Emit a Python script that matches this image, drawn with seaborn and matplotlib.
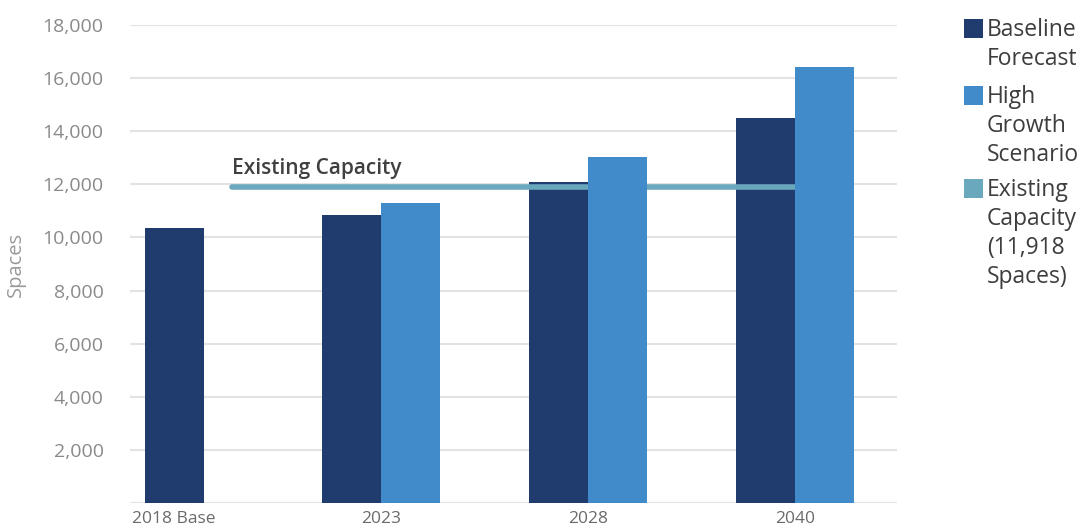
import pandas as pd
import matplotlib.pyplot as plt
import seaborn as sns
from matplotlib.patches import Rectangle

# 数据
years = ['2018 Base', '2023', '2028', '2040']
baseline = [10340, 10850, 12075, 14500]
high_growth = [None, 11280, 13020, 16430]
capacity = 11918
y_ticks = [0, 2000, 4000, 6000, 8000, 10000, 12000, 14000, 16000, 18000]

series_names = ['Baseline Forecast', 'High Growth Scenario']
legend_labels = ['Baseline\nForecast', 'High\nGrowth\nScenario', 'Existing\nCapacity\n(11,918\nSpaces)']

# 颜色
base_color = '#203c6e'
high_color = '#428bca'
cap_color = '#6aa8bd'

# 整理数据
base_df = pd.DataFrame({'Year': years[:1], 'Spaces': baseline[:1]})
fc_df = pd.DataFrame({
    'Year': years[1:] * 2,
    'Series': [series_names[0]] * 3 + [series_names[1]] * 3,
    'Spaces': baseline[1:] + high_growth[1:],
})

sns.set_style('white')
plt.rcParams['font.family'] = ['Open Sans', 'DejaVu Sans']

fig = plt.figure(figsize=(10.88, 5.27), dpi=100)
ax = fig.add_axes([0.1195, 0.0455, 0.7049, 0.9071])

# 2018 基准年只有一根柱子
sns.barplot(data=base_df, x='Year', y='Spaces', order=years, color=base_color,
            width=0.285, saturation=1, linewidth=0, ax=ax, zorder=2)
# 预测年份：两种情景
sns.barplot(data=fc_df, x='Year', y='Spaces', hue='Series', order=years,
            hue_order=series_names, palette=[base_color, high_color],
            width=0.57, saturation=1, linewidth=0, dodge=True, ax=ax, legend=False)

for bar in ax.containers[1]:
    bar.set_zorder(2)
for bar in ax.containers[2]:
    bar.set_zorder(3)

# 现有容量线
ax.hlines(capacity, 0.28, 3.01, color=cap_color, linewidth=4, zorder=2.5,
          capstyle='round')
ax.text(0.28, capacity + 300, 'Existing Capacity', fontsize=15, fontweight='semibold',
        color='#404040', ha='left', va='bottom')

# 坐标轴
ax.set_xlim(-0.213, 3.493)
ax.set_ylim(0, 18000)
ax.set_yticks(y_ticks)
ax.set_yticklabels([''] + [f'{v:,}' for v in y_ticks[1:]])
ax.tick_params(axis='y', length=0, pad=19, labelsize=14, labelcolor='#8a8a8a')
ax.tick_params(axis='x', length=0, pad=6, labelsize=12.5, labelcolor='#6a6a6a')
ax.set_xlabel('')
ax.set_ylabel('Spaces', fontsize=14.5, color='#9a9a9a', labelpad=12)
ax.grid(axis='y', color='#e3e3e3', linewidth=1.5, zorder=0)
ax.set_axisbelow(True)
sns.despine(ax=ax, left=True, bottom=True)

# 图例（方块对齐到第一行）
legend_tops = [19, 86, 179]
for lab, col, top in zip(legend_labels, [base_color, high_color, cap_color], legend_tops):
    fig.patches.append(Rectangle((964 / 1088, 1 - (top + 19) / 527), 19 / 1088, 19 / 527,
                                 transform=fig.transFigure, facecolor=col, edgecolor='none'))
    fig.text(987 / 1088, 1 - (top - 1) / 527, lab, fontsize=16.5, color='#3d3d3d',
             ha='left', va='top', linespacing=1.28)

plt.savefig('out.png', dpi=100)
